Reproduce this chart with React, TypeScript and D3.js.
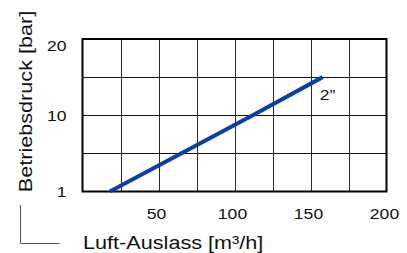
import * as d3 from "d3";
import { useEffect, useRef } from "react";

// data
const xTicks = [50, 100, 150, 200];
const yTicks = [1, 10, 20];
const flowValues = [18, 112, 158]; // m3/h
const pressureValues = [1, 10, 15]; // bar
const seriesLabel = "2\u201D";

export default function App() {
  const svgRef = useRef<SVGSVGElement | null>(null);

  useEffect(() => {
    if (!svgRef.current) return;
    const svg = d3.select(svgRef.current);
    svg.selectAll("*").remove();

    const width = 407;
    const height = 253;
    const plot = { left: 82.5, right: 386.5, top: 39, bottom: 191.5 };
    const font = "'Liberation Sans', Arial, Helvetica, sans-serif";
    const stretch = 1.17;

    svg.attr("width", width).attr("height", height);

    const x = d3.scaleLinear().domain([0, 200]).range([plot.left, plot.right]);
    // piecewise: 1 at bottom, 10 in the middle, 20 at the top
    const y = d3.scaleLinear().domain([1, 10, 20]).range([plot.bottom, (plot.top + plot.bottom) / 2, plot.top]);

    const g = svg.append("g");

    // vertical grid every 25
    g.selectAll("line.vg")
      .data(d3.range(25, 200, 25))
      .enter()
      .append("line")
      .attr("x1", (d) => Math.round(x(d)) + 0.5)
      .attr("x2", (d) => Math.round(x(d)) + 0.5)
      .attr("y1", plot.top)
      .attr("y2", plot.bottom)
      .attr("stroke", "#2a2a2a")
      .attr("stroke-width", 1);

    // horizontal grid: 4 rows
    const rows = [1, 5.5, 10, 15, 20];
    g.selectAll("line.hg")
      .data(rows.slice(1, -1))
      .enter()
      .append("line")
      .attr("x1", plot.left)
      .attr("x2", plot.right)
      .attr("y1", (d) => Math.round(y(d)) + 0.5)
      .attr("y2", (d) => Math.round(y(d)) + 0.5)
      .attr("stroke", "#111")
      .attr("stroke-width", 1);

    g.append("rect")
      .attr("x", plot.left)
      .attr("y", plot.top)
      .attr("width", plot.right - plot.left)
      .attr("height", plot.bottom - plot.top)
      .attr("fill", "none")
      .attr("stroke", "#000")
      .attr("stroke-width", 2);

    // the curve
    const pts = flowValues.map((f, i) => [f, pressureValues[i]] as [number, number]);
    const line = d3
      .line<[number, number]>()
      .x((d) => x(d[0]))
      .y((d) => y(d[1]));
    g.append("path")
      .attr("d", line(pts)!)
      .attr("fill", "none")
      .attr("stroke", "#0a3ea8")
      .attr("stroke-width", 4);

    const text = (tx: number, ty: number, s: string, size: number, anchor: string, rot = 0) =>
      g
        .append("text")
        .attr("transform", `translate(${tx},${ty}) rotate(${rot}) scale(${stretch},1)`)
        .attr("text-anchor", anchor)
        .attr("font-family", font)
        .attr("font-size", size)
        .attr("fill", "#111")
        .text(s);

    // y tick labels
    yTicks.forEach((v) => {
      const ty = Math.max(y(v), plot.top + 6);
      text(66.5, ty + 5.5, String(v), 15, "end");
    });

    // x tick labels
    xTicks.forEach((v) => {
      text(x(v) - 2, 218.5, String(v), 15, "middle");
    });

    // series label
    const last = pts[pts.length - 1];
    text(x(last[0]) - 3, y(last[1]) + 22.5, seriesLabel, 15, "start");

    // axis titles
    text(83, 249, "Luft-Auslass [m\u00B3/h]", 18.5, "start");
    text(32, 101.5, "Betriebsdruck [bar]", 18.5, "middle", -90);

    // corner bracket
    g.append("path")
      .attr("d", "M20.5,205 V243.5 H59.5")
      .attr("fill", "none")
      .attr("stroke", "#555")
      .attr("stroke-width", 1);
  }, []);

  return <svg ref={svgRef} style={{ position: "absolute", left: 0, top: 0 }}></svg>;
}
